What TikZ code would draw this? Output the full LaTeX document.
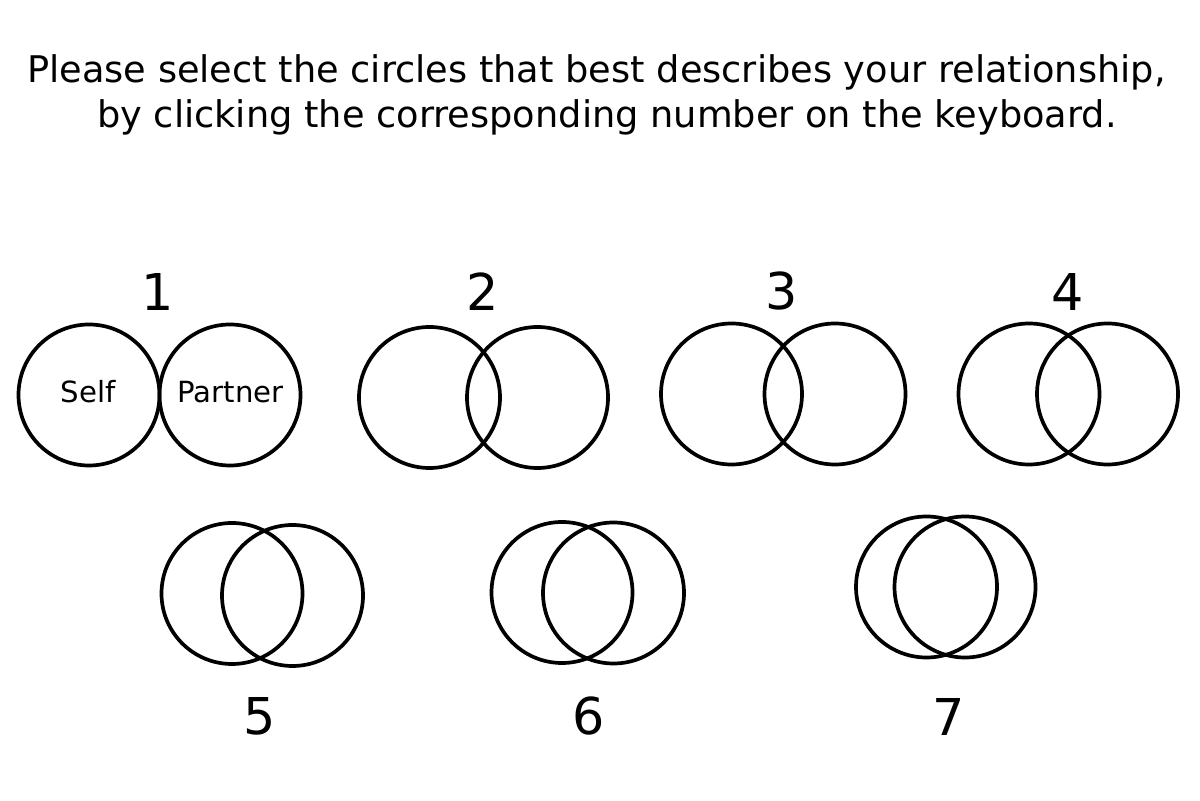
\documentclass[tikz,border=0pt]{standalone}
\usepackage{fontspec}
\setmainfont{DejaVu Sans}
\usepackage{tikz}
\usetikzlibrary{positioning,calc}
\tikzset{
  ring/.style={draw=black,line width=2.1pt},
  num/.style={inner sep=0pt,font=\fontsize{28.9}{34}\selectfont},
  who/.style={inner sep=0pt,anchor=base,font=\fontsize{16.6}{20}\selectfont},
  head/.style={inner sep=0pt,anchor=base,font=\fontsize{20.9}{25}\selectfont},
}

\begin{document}
\begin{tikzpicture}[scale=1]
\useasboundingbox (0,0) rectangle (24,16);
\node[head] (t1) at (11.930,14.340) {Please select the circles that best describes your relationship,};
\node[head] (t2) at (12.140,13.440) {by clicking the corresponding number on the keyboard.};
\coordinate (a1) at (1.780,8.100);
\coordinate (b1) at (4.600,8.100);
\coordinate (a2) at (8.590,8.050);
\coordinate (b2) at (10.750,8.050);
\coordinate (a3) at (14.630,8.120);
\coordinate (b3) at (16.700,8.120);
\coordinate (a4) at (20.580,8.120);
\coordinate (b4) at (22.150,8.120);
\coordinate (a5) at (4.640,4.130);
\coordinate (b5) at (5.850,4.090);
\coordinate (a6) at (11.240,4.150);
\coordinate (b6) at (12.270,4.140);
\coordinate (a7) at (18.530,4.260);
\coordinate (b7) at (19.300,4.260);
\foreach \i in {1,...,7}{
  \draw[ring] (a\i) circle (1.41);
  \draw[ring] (b\i) circle (1.41);
}
\node[who] (self) at (1.760,7.945) {Self};
\node[who] (partner) at (4.610,7.945) {Partner};
\node[num] (n1) at (3.160,10.170) {1};
\node[num] (n2) at (9.660,10.170) {2};
\node[num] (n3) at (15.640,10.170) {3};
\node[num] (n4) at (21.360,10.170) {4};
\node[num] (n5) at (5.200,1.670) {5};
\node[num] (n6) at (11.770,1.670) {6};
\node[num] (n7) at (18.980,1.660) {7};
\end{tikzpicture}
\end{document}
